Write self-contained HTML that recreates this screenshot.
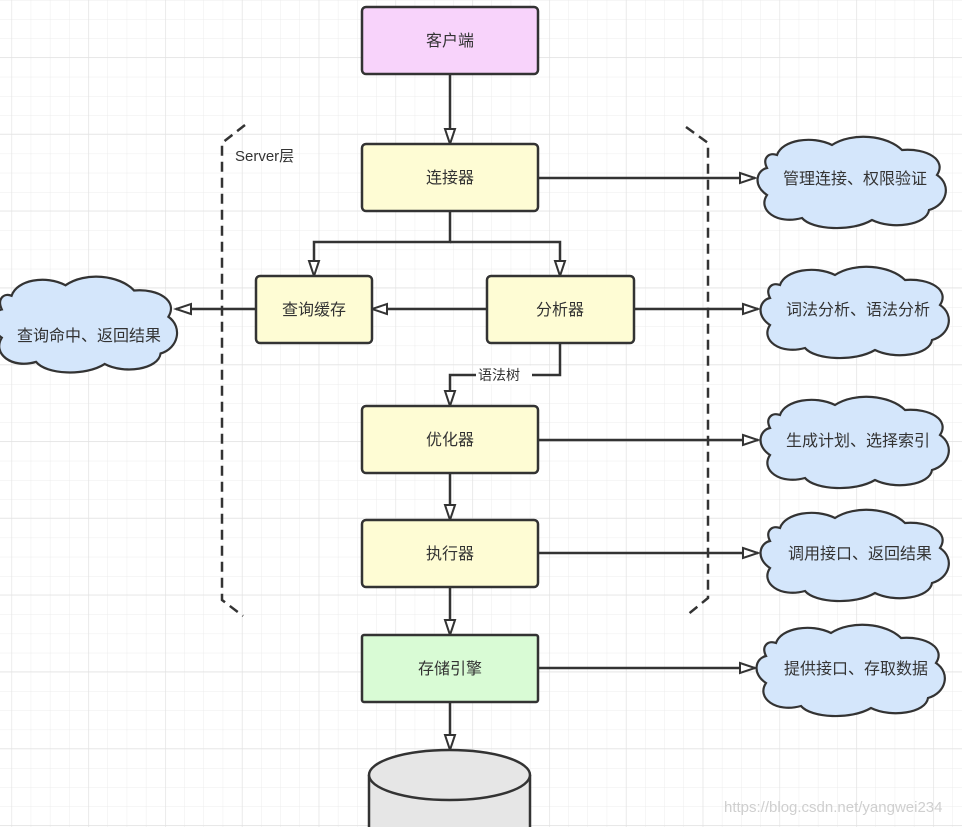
<!DOCTYPE html>
<html><head><meta charset="utf-8"><style>
html,body{margin:0;padding:0;background:#fff}
svg text{font-family:"Liberation Sans","Noto Sans CJK SC",sans-serif;fill:#333}
</style></head><body>
<svg width="962" height="827" viewBox="0 0 962 827" xmlns="http://www.w3.org/2000/svg">
<defs>
<pattern id="g" x="11.5" y="0" width="19.2" height="19.2" patternUnits="userSpaceOnUse">
<path d="M0 0V19.2M0 0H19.2" stroke="#ececec" stroke-width="1" fill="none"/>
</pattern>
<pattern id="G" x="11.5" y="57" width="76.8" height="76.8" patternUnits="userSpaceOnUse">
<path d="M0 0V76.8M0 0H76.8" stroke="#e2e2e2" stroke-width="1.2" fill="none"/>
</pattern>
<marker id="a" markerWidth="20" markerHeight="14" refX="17" refY="7" orient="auto" markerUnits="userSpaceOnUse">
<path d="M2 2L17 7L2 12Z" fill="#fff" stroke="#333" stroke-width="2"/>
</marker>
<path id="c" d="M20 -25C25 -40 55 -45 75 -35C95 -48 130 -45 145 -30C170 -32 190 -20 180 -5C195 5 190 25 172 30C170 45 135 50 115 40C95 52 55 50 45 38C20 45 0 30 10 15C-5 5 0 -10 10 -12C5 -22 12 -28 20 -25Z"/>
</defs>
<rect width="962" height="827" fill="url(#g)"/>
<rect width="962" height="827" fill="url(#G)"/>
<g stroke="#333" stroke-width="2.5" fill="none" stroke-dasharray="10,6">
<path d="M245 125L222 143V600L243 616"/>
<path d="M686 127L708 143V598L686 616"/>
</g>
<text x="235" y="161" font-size="15">Server层</text>
<g stroke="#333" stroke-width="2.5" fill="none" marker-end="url(#a)">
<path d="M450 74V144"/>
<path d="M450 211V242H314V276"/>
<path d="M450 242H560V276"/>
<path d="M487 309H372"/>
<path d="M256 309H176"/>
<path d="M560 343V375H450V406"/>
<path d="M450 473V520"/>
<path d="M450 587V635"/>
<path d="M450 702V750"/>
<path d="M538 178H755"/>
<path d="M634 309H758"/>
<path d="M538 440H758"/>
<path d="M538 553H758"/>
<path d="M538 668H755"/>
</g>
<rect x="476" y="366" width="56" height="18" fill="#fff"/>
<text x="478" y="380" font-size="14">语法树</text>
<g stroke="#333" stroke-width="2.5">
<rect x="362" y="7" width="176" height="67" rx="4" fill="#f8d3fb"/>
<rect x="362" y="144" width="176" height="67" rx="4" fill="#fefcd4"/>
<rect x="256" y="276" width="116" height="67" rx="4" fill="#fefcd4"/>
<rect x="487" y="276" width="147" height="67" rx="4" fill="#fefcd4"/>
<rect x="362" y="406" width="176" height="67" rx="4" fill="#fefcd4"/>
<rect x="362" y="520" width="176" height="67" rx="4" fill="#fefcd4"/>
<rect x="362" y="635" width="176" height="67" rx="2" fill="#d9fbd5"/>
<path d="M369 775V830H530V775" fill="#e6e6e6"/>
<ellipse cx="449.5" cy="775" rx="80.5" ry="25" fill="#e6e6e6"/>
</g>
<g font-size="16" text-anchor="middle">
<text x="450" y="46">客户端</text>
<text x="450" y="183">连接器</text>
<text x="314" y="315">查询缓存</text>
<text x="560" y="315">分析器</text>
<text x="450" y="445">优化器</text>
<text x="450" y="559">执行器</text>
<text x="450" y="674">存储引擎</text>
</g>
<g fill="#d4e6fb" stroke="#333" stroke-width="2.2">
<use href="#c" transform="translate(757,180)"/>
<use href="#c" transform="translate(760,310)"/>
<use href="#c" transform="translate(760,440)"/>
<use href="#c" transform="translate(760,553)"/>
<use href="#c" transform="translate(756,668)"/>
<use href="#c" transform="translate(-8,322) scale(0.98,1.05)"/>
</g>
<g font-size="16" text-anchor="middle">
<text x="855" y="184">管理连接、权限验证</text>
<text x="858" y="315">词法分析、语法分析</text>
<text x="858" y="446">生成计划、选择索引</text>
<text x="860" y="559">调用接口、返回结果</text>
<text x="856" y="674">提供接口、存取数据</text>
<text x="89" y="341">查询命中、返回结果</text>
</g>
<text x="724" y="812" font-size="15" style="fill:#cfcfcf">https://blog.csdn.net/yangwei234</text>
</svg>
</body></html>
